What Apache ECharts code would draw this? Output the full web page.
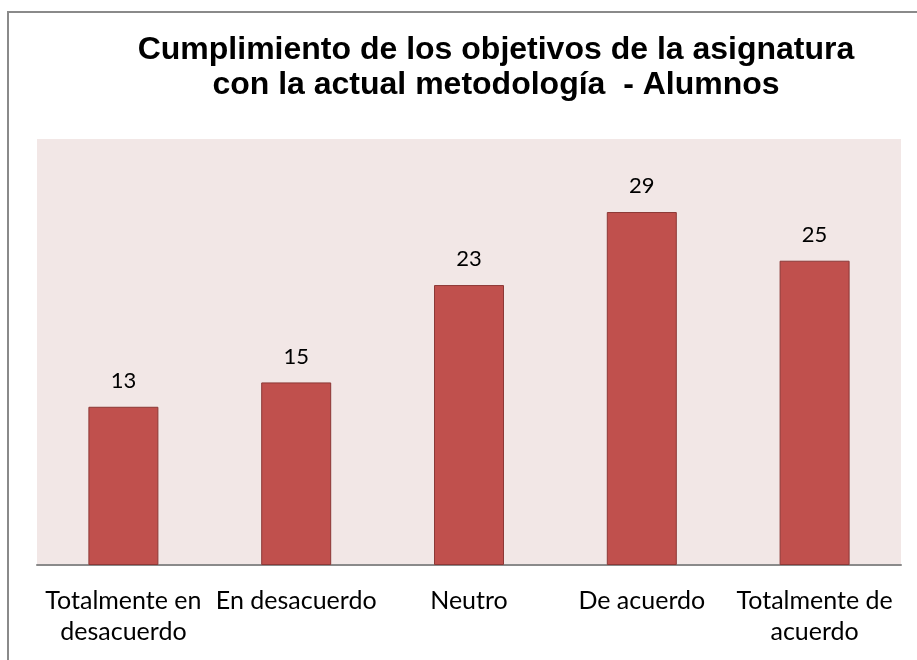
<!DOCTYPE html>
<html><head><meta charset="utf-8">
<script src="https://cdn.jsdelivr.net/npm/echarts@6/dist/echarts.min.js"></script>
<style>html,body{margin:0;padding:0;background:#fff}#c{width:917px;height:660px}</style>
</head><body><div id="c"></div>
<script>
const categories = ['Totalmente en\ndesacuerdo', 'En desacuerdo', 'Neutro', 'De acuerdo', 'Totalmente de\nacuerdo'];
const values = [13, 15, 23, 29, 25];
const titleText = 'Cumplimiento de los objetivos de la asignatura\ncon la actual metodología  - Alumnos';

const chart = echarts.init(document.getElementById('c'));
chart.setOption({
  animation: false,
  backgroundColor: '#fff',
  graphic: [{
    type: 'polyline', silent: true,
    shape: { points: [[8, 680], [8, 12], [940, 12]] },
    style: { stroke: '#8a8a8a', lineWidth: 2, fill: null }
  }],
  title: {
    text: titleText, left: 491, top: 28, textAlign: 'center',
    textStyle: { fontFamily: 'Liberation Sans', fontWeight: 'bold', fontSize: 32, lineHeight: 35, color: '#000' }
  },
  grid: { left: 37, right: 16, top: 139, bottom: 95, backgroundColor: '#F2E7E6', show: true, borderWidth: 0 },
  xAxis: {
    type: 'category', data: categories,
    axisLine: { lineStyle: { color: '#8a8a8a', width: 2 } },
    axisTick: { show: false },
    axisLabel: { fontFamily: 'Lato', fontSize: 25, lineHeight: 31, color: '#000', margin: 20, interval: 0 }
  },
  yAxis: {
    type: 'value', min: 0, max: 35, interval: 5,
    show: false, splitLine: { show: false }
  },
  series: [{
    type: 'bar', data: values, barWidth: 70,
    itemStyle: { color: '#C0504D', borderColor: '#8C3836', borderWidth: 1 },
    label: { show: true, position: 'top', distance: 15, fontFamily: 'Lato', fontSize: 22, color: '#000' }
  }]
});
</script></body></html>
